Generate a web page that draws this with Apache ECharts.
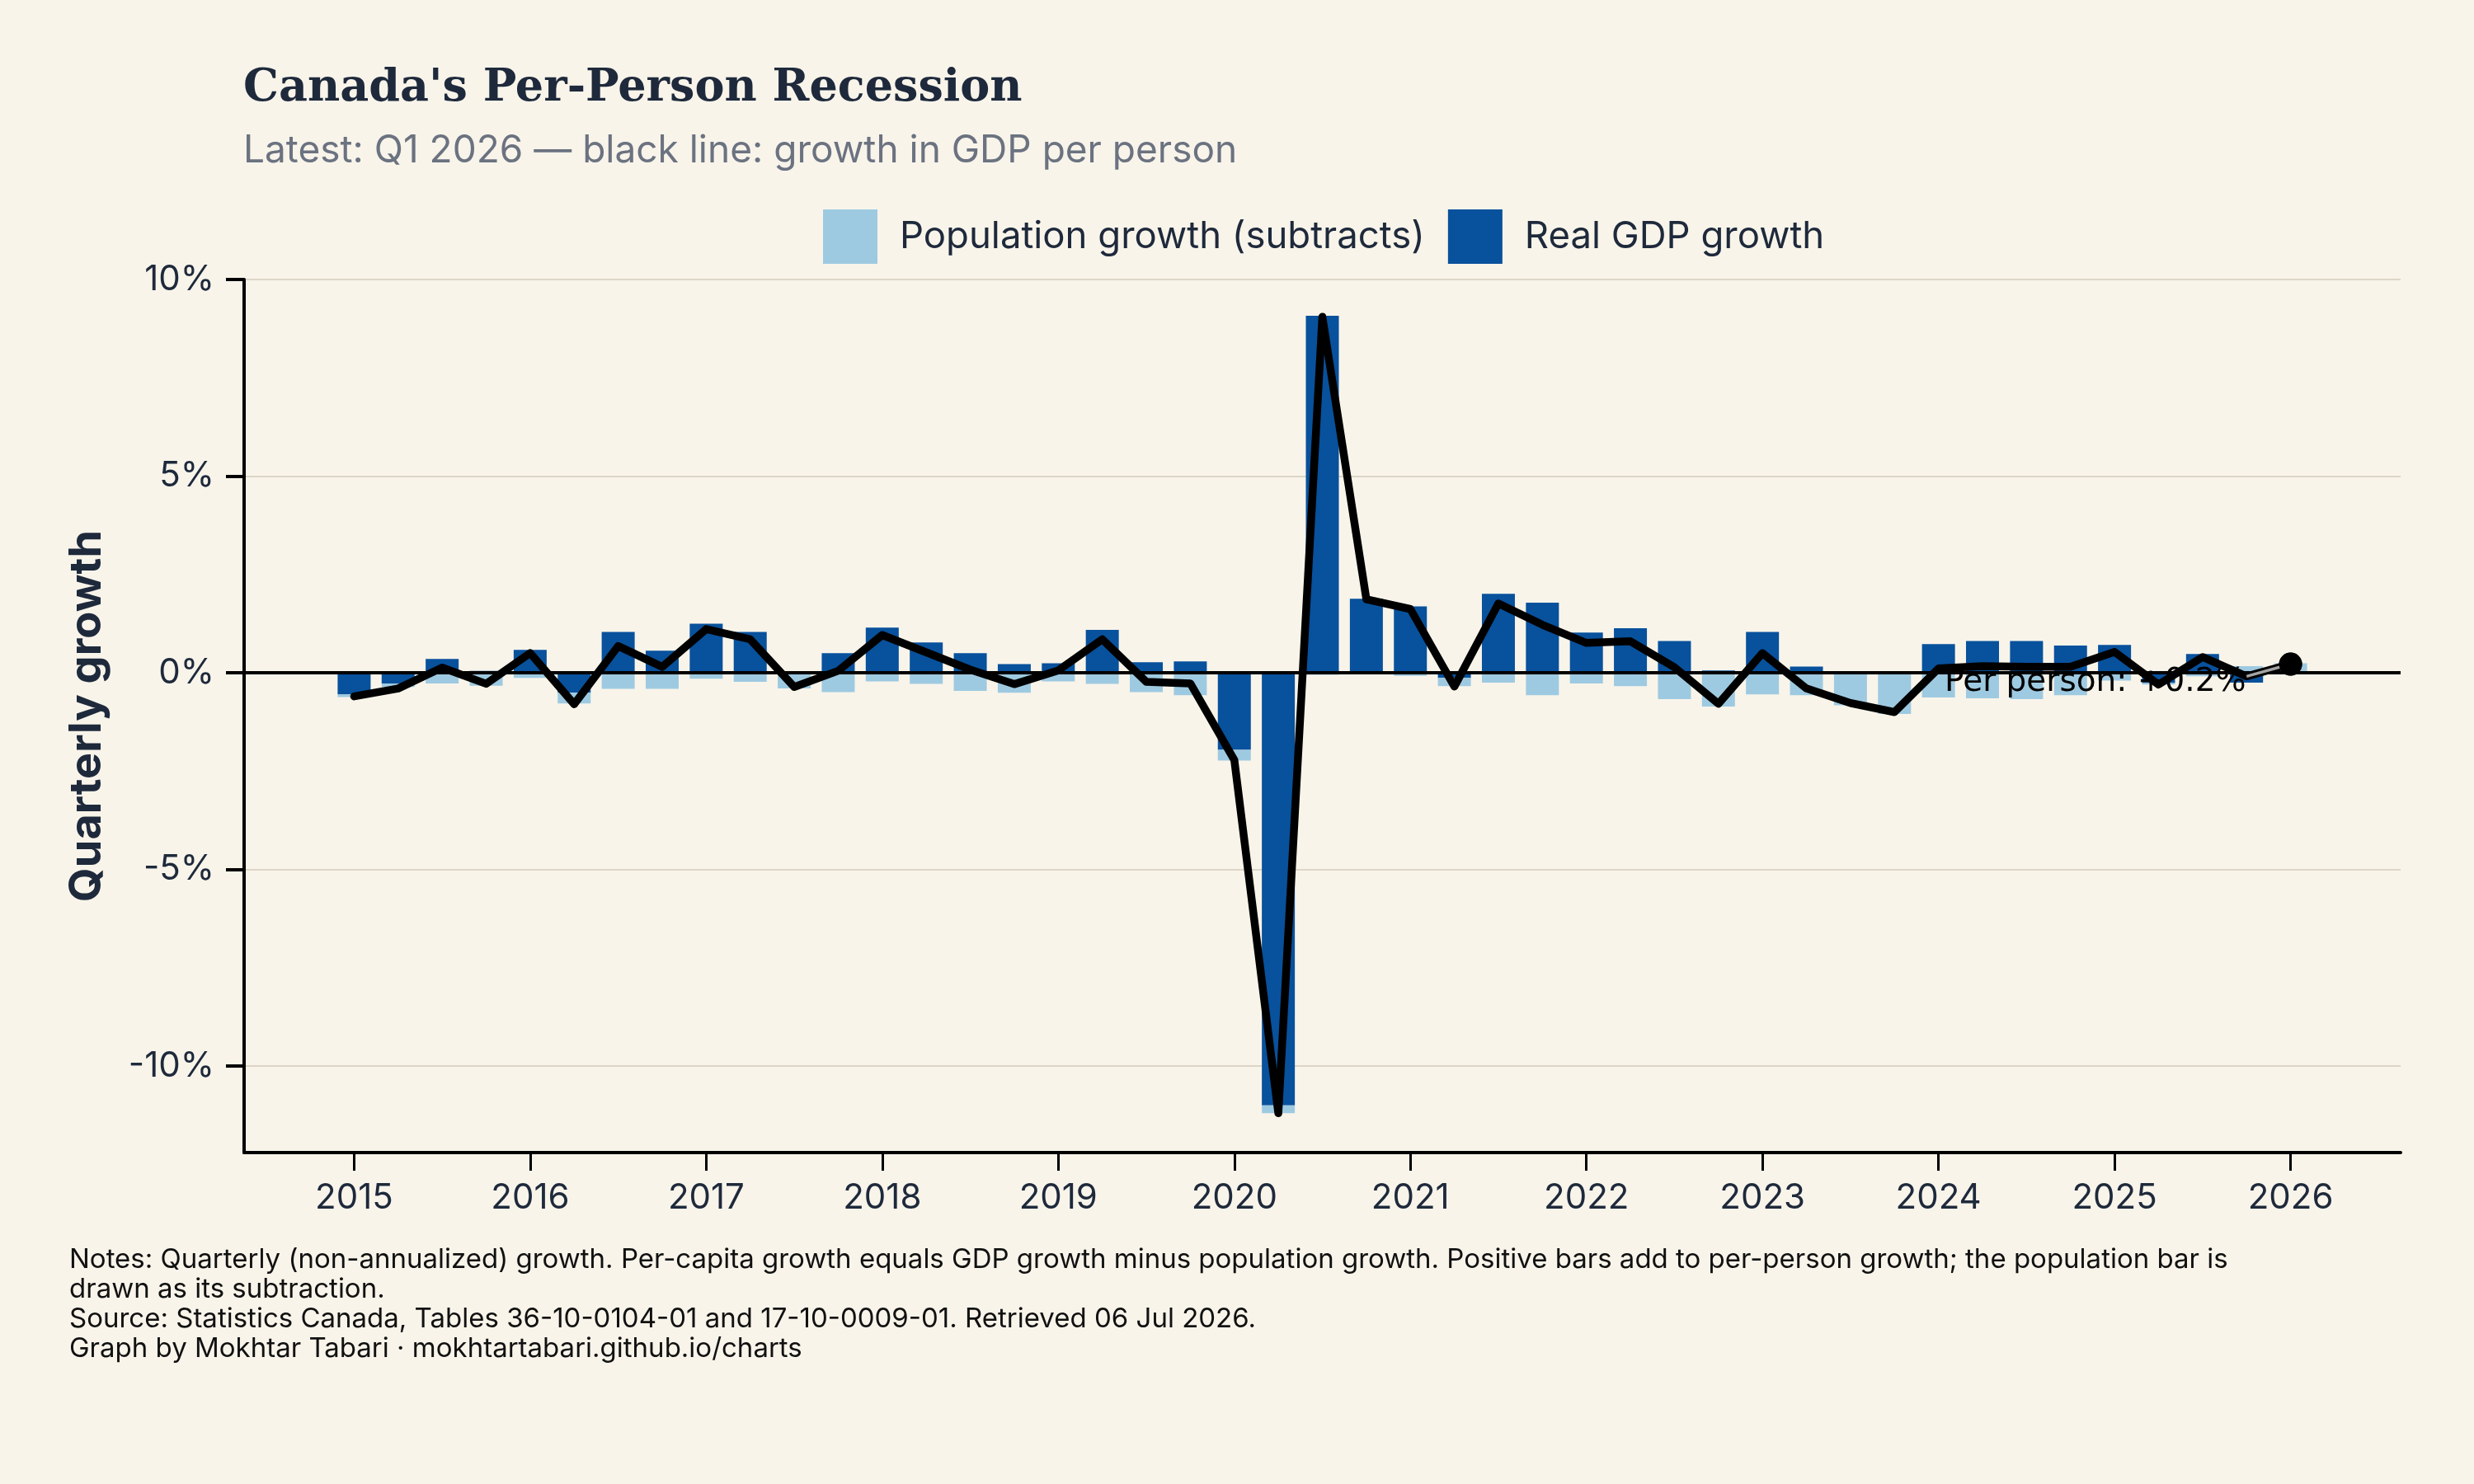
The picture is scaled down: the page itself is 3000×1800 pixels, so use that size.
<!DOCTYPE html>
<html>
<head>
<meta charset="utf-8">
<title>Canada's Per-Person Recession</title>
<script src="https://cdn.jsdelivr.net/npm/echarts@6/dist/echarts.min.js"></script>
<style>
  html, body { margin: 0; padding: 0; background: #f8f4ea; }
  #chart { width: 3000px; height: 1800px; }
</style>
</head>
<body>
<div id="chart"></div>
<script>
// quarterly data, Q1 2015 .. Q1 2026
const quarters = [
  '2015 Q1', '2015 Q2', '2015 Q3', '2015 Q4', '2016 Q1', '2016 Q2', '2016 Q3', '2016 Q4',
  '2017 Q1', '2017 Q2', '2017 Q3', '2017 Q4', '2018 Q1', '2018 Q2', '2018 Q3', '2018 Q4',
  '2019 Q1', '2019 Q2', '2019 Q3', '2019 Q4', '2020 Q1', '2020 Q2', '2020 Q3', '2020 Q4',
  '2021 Q1', '2021 Q2', '2021 Q3', '2021 Q4', '2022 Q1', '2022 Q2', '2022 Q3', '2022 Q4',
  '2023 Q1', '2023 Q2', '2023 Q3', '2023 Q4', '2024 Q1', '2024 Q2', '2024 Q3', '2024 Q4',
  '2025 Q1', '2025 Q2', '2025 Q3', '2025 Q4', '2026 Q1',
];
// empty quarters either side, so the axis runs a little past the data
const padBefore = ['2014 Q3', '2014 Q4'];
const padAfter = ['2026 Q2', '2026 Q3'];

// real GDP growth, % q/q
const gdpGrowth = [
  -0.55, -0.27, 0.35, 0.05, 0.58, -0.51, 1.04, 0.56,
  1.25, 1.04, 0.03, 0.50, 1.15, 0.77, 0.50, 0.22,
  0.24, 1.09, 0.27, 0.29, -1.96, -11.0, 9.08, 1.88,
  1.69, -0.13, 2.01, 1.78, 1.02, 1.13, 0.81, 0.06,
  1.04, 0.16, 0.04, 0.04, 0.73, 0.81, 0.81, 0.69,
  0.71, -0.26, 0.48, -0.25, -0.03,
];

// population bar as drawn (the subtraction, so growth shows below zero)
const populationBar = [
  -0.07, -0.09, -0.27, -0.33, -0.13, -0.27, -0.41, -0.41,
  -0.15, -0.23, -0.40, -0.49, -0.22, -0.28, -0.46, -0.51,
  -0.22, -0.28, -0.49, -0.57, -0.27, -0.20, -0.05, -0.02,
  -0.08, -0.21, -0.25, -0.57, -0.27, -0.34, -0.67, -0.86,
  -0.55, -0.57, -0.83, -1.05, -0.63, -0.65, -0.67, -0.57,
  -0.20, -0.04, -0.09, 0.17, 0.24,
];

// growth in GDP per person (black line)
const perPerson = [
  -0.60, -0.40, 0.13, -0.28, 0.50, -0.80, 0.68, 0.15,
  1.11, 0.85, -0.36, 0.05, 0.96, 0.52, 0.08, -0.29,
  0.06, 0.85, -0.23, -0.27, -2.22, -11.2, 9.05, 1.87,
  1.62, -0.35, 1.76, 1.22, 0.76, 0.80, 0.14, -0.79,
  0.50, -0.40, -0.77, -1.00, 0.11, 0.17, 0.15, 0.15,
  0.53, -0.30, 0.40, -0.09, 0.22,
];

const growthTicks = [-10, -5, 0, 5, 10];

const textColor = '#1e293b';
const sansFont = 'Inter';

const axisCategories = padBefore.concat(quarters, padAfter);
const isYearStart = (index, value) => /Q1$/.test(value) && quarters.indexOf(value) >= 0;
const pair = (arr) => arr.map((v, i) => [quarters[i], v]);

const lastIdx = perPerson.length - 1;
const lastPoint = [[quarters[lastIdx], perPerson[lastIdx]]];
const fmtPct = (v) => (v > 0 ? '+' : '') + v.toFixed(1) + '%';

const myChart = echarts.init(document.getElementById('chart'), null, { renderer: 'canvas' });

const option = {
  animation: false,
  backgroundColor: '#f8f4ea',
  title: {
    text: "Canada's Per-Person Recession",
    subtext: 'Latest: Q1 2026 \u2014 black line: growth in GDP per person',
    left: 290,
    top: 76,
    itemGap: 25,
    textStyle: {
      fontFamily: 'DejaVu Serif',
      fontWeight: 'bold',
      fontSize: 54,
      color: textColor,
    },
    subtextStyle: {
      fontFamily: sansFont,
      fontSize: 46,
      color: '#6b7280',
    },
  },
  legend: {
    data: ['Population growth (subtracts)', 'Real GDP growth'],
    left: 993,
    top: 249,
    itemWidth: 66,
    itemHeight: 66,
    itemGap: 28,
    icon: 'rect',
    textStyle: {
      fontFamily: sansFont,
      fontSize: 45.5,
      color: textColor,
      padding: [0, 0, 0, 22],
    },
  },
  grid: {
    left: 296,
    right: 89,
    top: 339,
    bottom: 402,
    containLabel: false,
  },
  xAxis: {
    type: 'category',
    data: axisCategories,
    boundaryGap: true,
    axisLine: { show: true, onZero: false, lineStyle: { color: '#000', width: 4 } },
    axisTick: {
      show: true,
      alignWithLabel: true,
      interval: isYearStart,
      length: 22,
      lineStyle: { color: '#000', width: 3 },
    },
    axisLabel: {
      interval: isYearStart,
      fontFamily: sansFont,
      fontSize: 42,
      color: textColor,
      margin: 34,
      formatter: (v) => v.slice(0, 4),
    },
    splitLine: { show: false },
  },
  yAxis: {
    type: 'value',
    min: -12.2,
    max: 10,
    name: 'Quarterly growth',
    nameLocation: 'middle',
    nameGap: 163,
    nameTextStyle: {
      fontFamily: sansFont,
      fontWeight: 'bold',
      fontSize: 54,
      color: textColor,
    },
    axisLine: { show: true, lineStyle: { color: '#000', width: 4 } },
    axisTick: {
      show: true,
      length: 22,
      lineStyle: { color: '#000', width: 4 },
      customValues: growthTicks,
    },
    axisLabel: {
      fontFamily: sansFont,
      fontSize: 42,
      color: textColor,
      margin: 36,
      customValues: growthTicks,
      formatter: (v) => v + '%',
    },
    splitLine: { show: true, lineStyle: { color: '#ddd5c6', width: 2 } },
  },
  series: [
    {
      name: 'Real GDP growth',
      type: 'bar',
      stack: 'growth',
      barWidth: 40,
      itemStyle: { color: '#08519c' },
      data: pair(gdpGrowth),
      z: 2,
    },
    {
      name: 'Population growth (subtracts)',
      type: 'bar',
      stack: 'growth',
      barWidth: 40,
      itemStyle: { color: '#9ecae1' },
      data: pair(populationBar),
      z: 2,
      markLine: {
        silent: true,
        symbol: 'none',
        z: 3,
        label: { show: false },
        lineStyle: { color: '#000', width: 4, type: 'solid' },
        data: [{ yAxis: 0 }],
      },
    },
    {
      // label sits above the bars but under the black line
      name: 'Latest label',
      type: 'scatter',
      data: lastPoint,
      symbol: 'circle',
      symbolSize: 28,
      itemStyle: { color: '#000', opacity: 1 },
      z: 3,
      label: {
        show: true,
        position: 'left',
        distance: 40,
        offset: [0, 22],
        fontFamily: 'DejaVu Sans',
        fontSize: 39,
        color: '#000',
        formatter: (p) => 'Per person: ' + fmtPct(p.value[1]),
      },
    },
    {
      name: 'Per person',
      type: 'line',
      data: pair(perPerson),
      symbol: 'none',
      lineStyle: { color: '#000', width: 9.5, join: 'round', cap: 'round' },
      z: 4,
    },
    {
      name: 'Latest segment',
      type: 'line',
      data: pair(perPerson).slice(-2),
      symbol: 'none',
      lineStyle: { color: '#a3a3a3', width: 3.5 },
      z: 5,
    },
    {
      name: 'Latest',
      type: 'scatter',
      data: lastPoint,
      symbol: 'circle',
      symbolSize: 28,
      itemStyle: { color: '#000', opacity: 1 },
      z: 6,
    },
  ],
  graphic: [
    {
      type: 'text',
      left: 84,
      top: 1510,
      style: {
        text: 'Notes: Quarterly (non-annualized) growth. Per-capita growth equals GDP growth minus population growth. Positive bars add to per-person growth; the population bar is\n' +
          'drawn as its subtraction.\n' +
          'Source: Statistics Canada, Tables 36-10-0104-01 and 17-10-0009-01. Retrieved 06 Jul 2026.\n' +
          'Graph by Mokhtar Tabari \u00b7 mokhtartabari.github.io/charts',
        font: '33px Inter',
        lineHeight: 36,
        fill: '#111111',
      },
    },
  ],
};

myChart.setOption(option);
</script>
</body>
</html>
